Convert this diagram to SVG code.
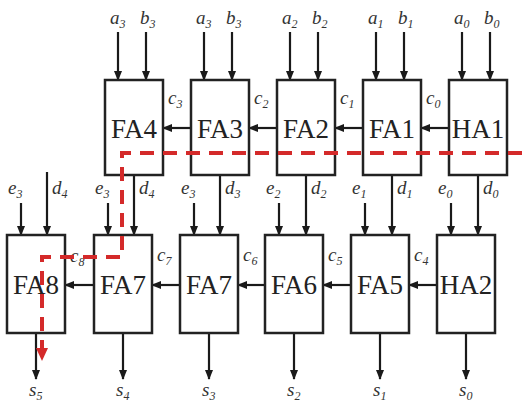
<svg xmlns="http://www.w3.org/2000/svg" width="522" height="414" viewBox="0 0 522 414">
<defs>
<marker id="ah" markerWidth="10" markerHeight="10" refX="9" refY="5" orient="auto" markerUnits="userSpaceOnUse">
<path d="M0,1 L10,5 L0,9 Z" fill="#1a1a1a"/>
</marker>
<marker id="rh" markerWidth="14" markerHeight="14" refX="12" refY="7" orient="auto" markerUnits="userSpaceOnUse">
<path d="M0,1 L13,7 L0,13 Z" fill="#d42a2a"/>
</marker>
<style>
.box{fill:#fff;stroke:#222;stroke-width:2.5}
.nm{font-size:27px;fill:#222;text-anchor:middle}
.lb{font-style:italic;font-size:19px;fill:#333}
.lb tspan{font-size:12px}
.w{stroke:#1a1a1a;stroke-width:2.2;fill:none;marker-end:url(#ah)}
.red{stroke:#d42a2a;stroke-width:4;fill:none;stroke-dasharray:14 9}
</style>
</defs>
<g id="connectors">
<line class="w" x1="118" y1="32" x2="118" y2="80"/><line class="w" x1="146" y1="32" x2="146" y2="80"/>
<line class="w" x1="204" y1="32" x2="204" y2="80"/><line class="w" x1="232" y1="32" x2="232" y2="80"/>
<line class="w" x1="290" y1="32" x2="290" y2="80"/><line class="w" x1="318" y1="32" x2="318" y2="80"/>
<line class="w" x1="376" y1="32" x2="376" y2="80"/><line class="w" x1="404" y1="32" x2="404" y2="80"/>
<line class="w" x1="462" y1="32" x2="462" y2="80"/><line class="w" x1="490" y1="32" x2="490" y2="80"/>
<line class="w" x1="191" y1="128" x2="163" y2="128"/>
<line class="w" x1="277" y1="128" x2="249" y2="128"/>
<line class="w" x1="363" y1="128" x2="335" y2="128"/>
<line class="w" x1="449" y1="128" x2="421" y2="128"/>
<line class="w" x1="21" y1="203" x2="21" y2="235"/><line class="w" x1="47" y1="172" x2="47" y2="235"/>
<line class="w" x1="108" y1="203" x2="108" y2="235"/><line class="w" x1="134" y1="175" x2="134" y2="235"/>
<line class="w" x1="194" y1="203" x2="194" y2="235"/><line class="w" x1="220" y1="175" x2="220" y2="235"/>
<line class="w" x1="279" y1="203" x2="279" y2="235"/><line class="w" x1="306" y1="175" x2="306" y2="235"/>
<line class="w" x1="365" y1="203" x2="365" y2="235"/><line class="w" x1="392" y1="175" x2="392" y2="235"/>
<line class="w" x1="451" y1="203" x2="451" y2="235"/><line class="w" x1="478" y1="175" x2="478" y2="235"/>
<line class="w" x1="94" y1="285" x2="65" y2="285"/>
<line class="w" x1="180" y1="285" x2="152" y2="285"/>
<line class="w" x1="265" y1="285" x2="238" y2="285"/>
<line class="w" x1="351" y1="285" x2="323" y2="285"/>
<line class="w" x1="437" y1="285" x2="409" y2="285"/>
<line class="w" x1="36" y1="333" x2="36" y2="379"/>
<line class="w" x1="123" y1="333" x2="123" y2="379"/>
<line class="w" x1="209" y1="333" x2="209" y2="379"/>
<line class="w" x1="294" y1="333" x2="294" y2="379"/>
<line class="w" x1="380" y1="333" x2="380" y2="379"/>
<line class="w" x1="466" y1="333" x2="466" y2="379"/>
</g>
<g font-family="Liberation Serif, serif">
<g id="FA4"><rect class="box" x="105" y="80" width="58" height="95"/><text class="nm" x="134" y="138">FA4</text></g>
<g id="FA3"><rect class="box" x="191" y="80" width="58" height="95"/><text class="nm" x="220" y="138">FA3</text></g>
<g id="FA2"><rect class="box" x="277" y="80" width="58" height="95"/><text class="nm" x="306" y="138">FA2</text></g>
<g id="FA1"><rect class="box" x="363" y="80" width="58" height="95"/><text class="nm" x="392" y="138">FA1</text></g>
<g id="HA1"><rect class="box" x="449" y="80" width="58" height="95"/><text class="nm" x="478" y="138">HA1</text></g>
<g id="FA8"><rect class="box" x="7" y="235" width="58" height="98"/><text class="nm" x="36" y="294">FA8</text></g>
<g id="FA7a"><rect class="box" x="94" y="235" width="58" height="98"/><text class="nm" x="123" y="294">FA7</text></g>
<g id="FA7b"><rect class="box" x="180" y="235" width="58" height="98"/><text class="nm" x="209" y="294">FA7</text></g>
<g id="FA6"><rect class="box" x="265" y="235" width="58" height="98"/><text class="nm" x="294" y="294">FA6</text></g>
<g id="FA5"><rect class="box" x="351" y="235" width="58" height="98"/><text class="nm" x="380" y="294">FA5</text></g>
<g id="HA2"><rect class="box" x="437" y="235" width="58" height="98"/><text class="nm" x="466" y="294">HA2</text></g>
<g id="labels">
<text class="lb" x="110" y="24">a<tspan dy="4">3</tspan></text><text class="lb" x="140" y="24">b<tspan dy="4">3</tspan></text>
<text class="lb" x="196" y="24">a<tspan dy="4">3</tspan></text><text class="lb" x="226" y="24">b<tspan dy="4">3</tspan></text>
<text class="lb" x="282" y="24">a<tspan dy="4">2</tspan></text><text class="lb" x="312" y="24">b<tspan dy="4">2</tspan></text>
<text class="lb" x="368" y="24">a<tspan dy="4">1</tspan></text><text class="lb" x="398" y="24">b<tspan dy="4">1</tspan></text>
<text class="lb" x="454" y="24">a<tspan dy="4">0</tspan></text><text class="lb" x="484" y="24">b<tspan dy="4">0</tspan></text>
<text class="lb" x="168" y="104">c<tspan dy="4">3</tspan></text>
<text class="lb" x="254" y="104">c<tspan dy="4">2</tspan></text>
<text class="lb" x="340" y="104">c<tspan dy="4">1</tspan></text>
<text class="lb" x="426" y="104">c<tspan dy="4">0</tspan></text>
<text class="lb" x="8" y="194">e<tspan dy="4">3</tspan></text><text class="lb" x="52" y="194">d<tspan dy="4">4</tspan></text>
<text class="lb" x="95" y="194">e<tspan dy="4">3</tspan></text><text class="lb" x="139" y="194">d<tspan dy="4">4</tspan></text>
<text class="lb" x="181" y="194">e<tspan dy="4">3</tspan></text><text class="lb" x="225" y="194">d<tspan dy="4">3</tspan></text>
<text class="lb" x="266" y="194">e<tspan dy="4">2</tspan></text><text class="lb" x="311" y="194">d<tspan dy="4">2</tspan></text>
<text class="lb" x="352" y="194">e<tspan dy="4">1</tspan></text><text class="lb" x="397" y="194">d<tspan dy="4">1</tspan></text>
<text class="lb" x="438" y="194">e<tspan dy="4">0</tspan></text><text class="lb" x="483" y="194">d<tspan dy="4">0</tspan></text>
<text class="lb" x="70" y="262">c<tspan dy="4">8</tspan></text>
<text class="lb" x="157" y="261">c<tspan dy="4">7</tspan></text>
<text class="lb" x="243" y="261">c<tspan dy="4">6</tspan></text>
<text class="lb" x="328" y="261">c<tspan dy="4">5</tspan></text>
<text class="lb" x="414" y="261">c<tspan dy="4">4</tspan></text>
<text class="lb" x="29" y="396">s<tspan dy="4">5</tspan></text>
<text class="lb" x="116" y="396">s<tspan dy="4">4</tspan></text>
<text class="lb" x="202" y="396">s<tspan dy="4">3</tspan></text>
<text class="lb" x="287" y="396">s<tspan dy="4">2</tspan></text>
<text class="lb" x="373" y="396">s<tspan dy="4">1</tspan></text>
<text class="lb" x="459" y="396">s<tspan dy="4">0</tspan></text>
</g>
</g>
<g id="critical-path">
<path class="red" d="M522,153 H122 V257 H42 V360" marker-end="url(#rh)"/>
</g>
</svg>
